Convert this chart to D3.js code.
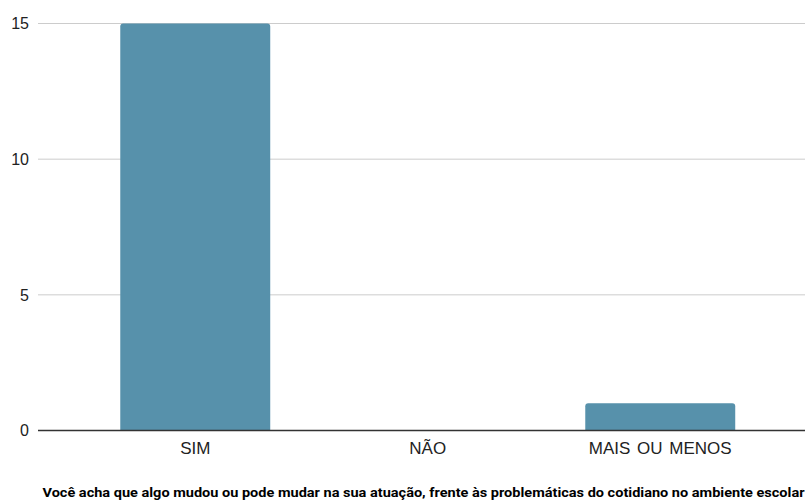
<!DOCTYPE html>
<html>
<head>
<meta charset="utf-8">
<script src="https://cdn.jsdelivr.net/npm/d3@7"></script>
<style>
  body { margin: 0; background: #fff; }
  svg { display: block; font-family: "Liberation Sans", Arial, sans-serif; }
</style>
</head>
<body>
<div id="chart"></div>
<script>
const categories = ["SIM", "NÃO", "MAIS OU MENOS"];
const counts = [15, 0, 1];
const yTicks = [0, 5, 10, 15];
const title = "Você acha que algo mudou ou pode mudar na sua atuação, frente às problemáticas do cotidiano no ambiente escolar";

const w = 805, h = 500;
const plotLeft = 38, plotRight = 805;

const svg = d3.select("div#chart")
  .append("svg")
  .attr("width", w)
  .attr("height", h);

const x = d3.scaleBand()
  .domain(categories)
  .range([79, 776.5])
  .paddingInner(0.355)
  .paddingOuter(0.1775);

const y = d3.scaleLinear()
  .domain([0, 15])
  .range([430.5, 23.5]);

// gridlines
svg.selectAll("line.grid")
  .data(yTicks.filter(d => d !== 0))
  .enter()
  .append("line")
  .attr("x1", plotLeft)
  .attr("x2", plotRight)
  .attr("y1", d => y(d))
  .attr("y2", d => y(d))
  .attr("stroke", "#cccccc")
  .attr("stroke-width", 1);

// y labels
svg.selectAll("text.ytick")
  .data(yTicks)
  .enter()
  .append("text")
  .attr("x", 29)
  .attr("y", d => y(d))
  .attr("dy", "0.36em")
  .attr("text-anchor", "end")
  .attr("font-size", 16)
  .attr("fill", "#222")
  .text(d => d);

// bars with rounded tops
const r = 3;
svg.selectAll("path.bar")
  .data(categories.map((c, i) => ({ c: c, v: counts[i] })).filter(d => d.v > 0))
  .enter()
  .append("path")
  .attr("fill", "#5791ab")
  .attr("d", d => {
    const x0 = x(d.c), x1 = x0 + x.bandwidth();
    const y0 = y(0), y1 = y(d.v);
    return `M${x0},${y0}V${y1 + r}Q${x0},${y1} ${x0 + r},${y1}H${x1 - r}Q${x1},${y1} ${x1},${y1 + r}V${y0}Z`;
  });

// baseline
svg.append("line")
  .attr("x1", plotLeft)
  .attr("x2", plotRight)
  .attr("y1", y(0))
  .attr("y2", y(0))
  .attr("stroke", "#333")
  .attr("stroke-width", 1.3);

// x labels
svg.selectAll("text.xtick")
  .data(categories)
  .enter()
  .append("text")
  .attr("x", d => x(d) + x.bandwidth() / 2)
  .attr("y", 454)
  .attr("text-anchor", "middle")
  .attr("font-size", 17)
  .attr("word-spacing", 2)
  .attr("fill", "#222")
  .text(d => d);

// title
svg.append("text")
  .attr("x", 423.5)
  .attr("y", 497)
  .attr("text-anchor", "middle")
  .attr("font-family", "Roboto, sans-serif")
  .attr("font-size", 13)
  .attr("font-weight", "bold")
  .attr("fill", "#000")
  .attr("textLength", 762)
  .attr("lengthAdjust", "spacingAndGlyphs")
  .text(title);
</script>
</body>
</html>
